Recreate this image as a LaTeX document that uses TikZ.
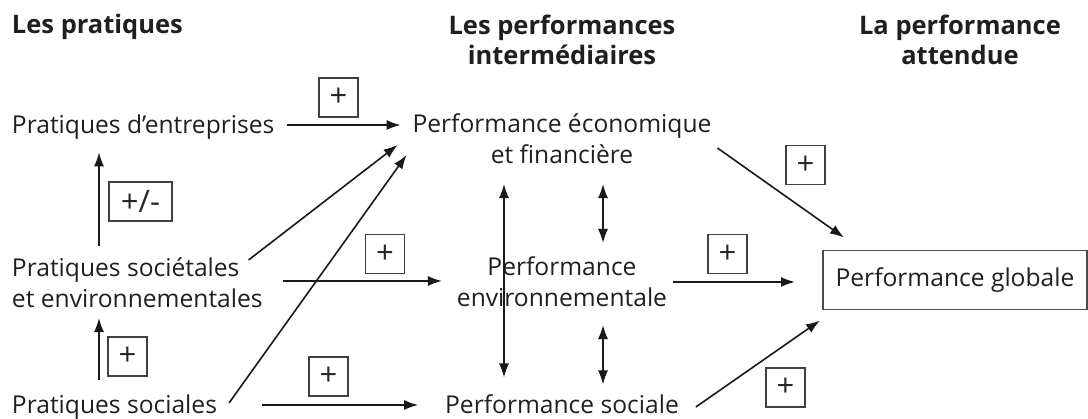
\documentclass[tikz,border=0pt]{standalone}
\usepackage{fontspec}
\setmainfont{Open Sans}
\usepackage{tikz}
\usetikzlibrary{arrows.meta}

\begin{document}
\begin{tikzpicture}[x=1pt,y=-1pt,
        txt/.style={inner sep=0pt,outer sep=0pt,text=black!88,font=\fontsize{24.6}{31}\selectfont},
        titre/.style={txt,font=\fontsize{25.5}{30}\selectfont\bfseries},
        signe/.style={draw=black!75,line width=1.3pt,inner sep=0pt,minimum width=39pt,minimum height=39pt,text=black!85,font=\fontsize{31}{31}\selectfont},
        arr/.style={line width=1.6pt,draw=black!90,-{Latex[length=14pt,width=10pt]}},
        arr2/.style={line width=1.6pt,draw=black!90,{Latex[length=14pt,width=10pt]}-{Latex[length=14pt,width=10pt]}}]
            \useasboundingbox (0,0) rectangle (1088,419);

            % titres des colonnes
            \node[titre,anchor=west] (h1) at (12,27) {Les pratiques};
            \node[titre,align=center] (h2) at (562,40) {Les performances\\intermédiaires};
            \node[titre,align=center] (h3) at (960,40) {La performance\\attendue};

            % les pratiques
            \node[txt,anchor=west] (ent) at (12,127) {Pratiques d’entreprises};
            \node[txt,anchor=west,align=left] (soc) at (12,283) {Pratiques sociétales\\et environnementales};
            \node[txt,anchor=west] (sol) at (12,407) {Pratiques sociales};

            % les performances
            \node[txt,align=center] (eco) at (562,139) {Performance économique\\et financière};
            \node[txt,align=center] (env) at (562,282) {Performance\\environnementale};
            \node[txt] (ps) at (562,404) {Performance sociale};
            \node[txt,draw=black!70,line width=1.2pt,minimum width=264pt,minimum height=59pt] (glob) at (955,280) {Performance globale};

            % les signes
            \foreach \n/\x/\y in {s1/338.5/97.5,s3/385/254,s4/127.5/356.5,s5/328.5/376.5,s6/805.5/165,s7/727.5/254,s8/785.5/387.5}
                \node[signe] (\n) at (\x,\y) {+};
            \node[signe,minimum width=63pt] (s2) at (140.5,201.5) {+/-};

            % les liens
            \draw[arr] ([shift={(13,-2)}]ent.east) -- ([shift={(-12,-14)}]eco.west);
            \draw[arr] ([shift={(87,-12)}]soc.north west) -- ([shift={(87,13)}]ent.south west);
            \draw[arr] ([shift={(87,-15)}]sol.north west) -- ([shift={(87,10)}]soc.south west);
            \draw[arr] ([shift={(-14,2)}]soc.north east) -- ([shift={(-15,6)}]eco.west);
            \draw[arr] ([shift={(12,-4)}]sol.east) -- ([shift={(-6,16)}]eco.west);
            \draw[arr] ([shift={(20,-2)}]soc.east) -- ([shift={(-15,-1)}]env.west);
            \draw[arr] ([shift={(45,-2)}]sol.east) -- ([shift={(-27,1)}]ps.west);
            \draw[arr2] ([shift={(-58,20)}]eco.south) -- ([shift={(-58,-17)}]ps.north);
            \draw[arr2] ([shift={(41,20)}]eco.south) -- ([shift={(41,-14)}]env.north);
            \draw[arr2] ([shift={(41,18)}]env.south) -- ([shift={(41,-10)}]ps.north);
            \draw[arr] ([shift={(6,9)}]eco.east) -- ([shift={(21,-13)}]glob.north west);
            \draw[arr] ([shift={(6,0)}]env.east) -- ([shift={(-28,2)}]glob.west);
            \draw[arr] ([shift={(17,3)}]ps.east) -- ([shift={(-3,11)}]glob.south west);
        \end{tikzpicture}
\end{document}
